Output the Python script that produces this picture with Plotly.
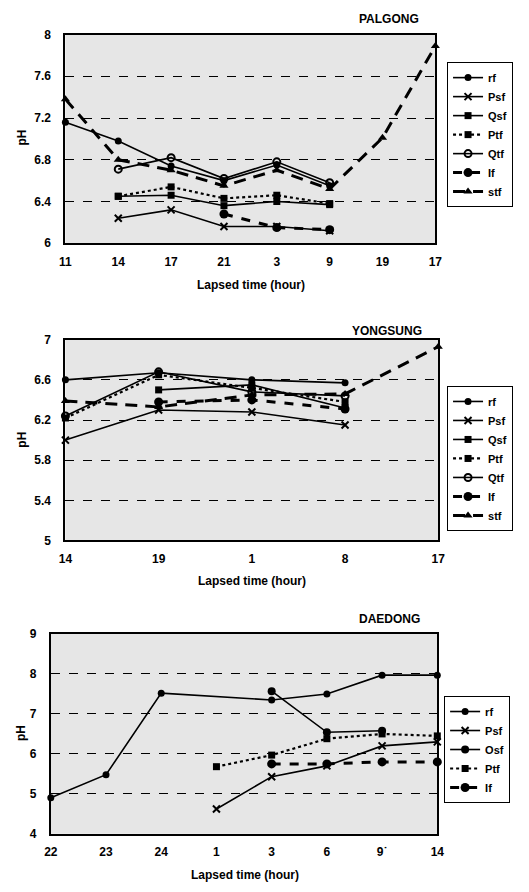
import plotly.graph_objects as go

# ---------------- data ----------------
PALGONG_TIMES = ["11", "14", "17", "21", "3", "9", "19", "17"]
PALGONG_RF  = [7.16, 6.98, 6.74, 6.60, 6.75, 6.55, None, None]
PALGONG_PSF = [None, 6.24, 6.32, 6.16, 6.16, 6.12, None, None]
PALGONG_QSF = [None, 6.45, 6.46, 6.36, 6.40, 6.37, None, None]
PALGONG_PTF = [None, 6.45, 6.54, 6.43, 6.46, 6.38, None, None]
PALGONG_QTF = [None, 6.71, 6.82, 6.62, 6.78, 6.58, None, None]
PALGONG_IF  = [None, None, None, 6.28, 6.15, 6.13, None, None]
PALGONG_STF = [7.38, 6.80, 6.70, 6.55, 6.70, 6.52, 7.01, 7.89]

YONGSUNG_TIMES = ["14", "19", "1", "8", "17"]
YONGSUNG_RF  = [6.60, 6.67, 6.60, 6.57, None]
YONGSUNG_PSF = [6.00, 6.30, 6.28, 6.15, None]
YONGSUNG_QSF = [None, 6.50, 6.55, 6.32, None]
YONGSUNG_PTF = [6.22, 6.65, 6.52, 6.38, None]
YONGSUNG_QTF = [6.24, 6.68, 6.48, 6.44, None]
YONGSUNG_IF  = [None, 6.38, 6.40, 6.31, None]
YONGSUNG_STF = [6.39, 6.33, 6.45, 6.46, 6.93]

DAEDONG_TIMES = ["22", "23", "24", "1", "3", "6", "9˙", "14"]
DAEDONG_RF  = [4.90, 5.48, 7.52, None, 7.35, 7.50, 7.97, 7.97]
DAEDONG_PSF = [None, None, None, 4.62, 5.43, 5.70, 6.20, 6.30]
DAEDONG_OSF = [None, None, None, None, 7.57, 6.54, 6.58, None]
DAEDONG_PTF = [None, None, None, 5.68, 5.97, 6.38, 6.50, 6.45]
DAEDONG_IF  = [None, None, None, None, 5.75, 5.75, 5.80, 5.80]

FONT = "Liberation Sans, Arial, sans-serif"
W, H = 529, 892

fig = go.Figure()

STYLES = {
    "rf":  dict(line=dict(color="black", width=1.6, dash="solid"), marker=dict(symbol="circle", size=7, color="black")),
    "Psf": dict(line=dict(color="black", width=1.6, dash="solid"), marker=dict(symbol="x-thin", size=7, color="black", line=dict(width=2, color="black"))),
    "Qsf": dict(line=dict(color="black", width=1.6, dash="solid"), marker=dict(symbol="square", size=7, color="black")),
    "Osf": dict(line=dict(color="black", width=1.6, dash="solid"), marker=dict(symbol="circle", size=8, color="black")),
    "Ptf": dict(line=dict(color="black", width=2.2, dash="dot"), marker=dict(symbol="square", size=7, color="black")),
    "Qtf": dict(line=dict(color="black", width=1.6, dash="solid"), marker=dict(symbol="circle-open", size=7, color="black", line=dict(width=2))),
    "If":  dict(line=dict(color="black", width=3, dash="dash"), marker=dict(symbol="circle", size=9, color="black")),
    "stf": dict(line=dict(color="black", width=3, dash="12px,8px"), marker=dict(symbol="triangle-up", size=8, color="black")),
}


def add_panel(times, series, xa, ya, legend):
    xs = list(range(len(times)))
    for name, vals in series:
        st = STYLES[name]
        fig.add_trace(go.Scatter(
            x=xs, y=vals, name=name, mode="lines+markers",
            line=st["line"], marker=st["marker"],
            xaxis=xa, yaxis=ya, legend=legend, cliponaxis=False,
            connectgaps=True,
        ))


add_panel(PALGONG_TIMES, [("rf", PALGONG_RF), ("Psf", PALGONG_PSF), ("Qsf", PALGONG_QSF),
                          ("Ptf", PALGONG_PTF), ("Qtf", PALGONG_QTF), ("If", PALGONG_IF),
                          ("stf", PALGONG_STF)], "x", "y", "legend")
add_panel(YONGSUNG_TIMES, [("rf", YONGSUNG_RF), ("Psf", YONGSUNG_PSF), ("Qsf", YONGSUNG_QSF),
                           ("Ptf", YONGSUNG_PTF), ("Qtf", YONGSUNG_QTF), ("If", YONGSUNG_IF),
                           ("stf", YONGSUNG_STF)], "x2", "y2", "legend2")
add_panel(DAEDONG_TIMES, [("rf", DAEDONG_RF), ("Psf", DAEDONG_PSF), ("Osf", DAEDONG_OSF),
                          ("Ptf", DAEDONG_PTF), ("If", DAEDONG_IF)], "x3", "y3", "legend3")


def px_x(p):
    return p / W


def px_y(p):
    return 1 - p / H


TICKFONT = dict(family=FONT, size=12, color="black", weight="bold")


def xaxis(times, x0, x1, anchor):
    return dict(
        domain=[px_x(x0), px_x(x1)], anchor=anchor,
        range=[0, len(times) - 1], tickmode="array",
        tickvals=list(range(len(times))), ticktext=times,
        showgrid=False, zeroline=False, showline=True, linecolor="black",
        linewidth=2, mirror=True, ticks="", ticklabelstandoff=6,
        tickfont=TICKFONT,
    )


def yaxis(rng, dt, y0, y1, anchor):
    return dict(
        domain=[px_y(y1), px_y(y0)], anchor=anchor,
        range=rng, dtick=dt, tick0=rng[0],
        showgrid=True, gridcolor="black", gridwidth=1, griddash="dash",
        zeroline=False, showline=True, linecolor="black", linewidth=2,
        mirror=True, ticks="", ticklabelstandoff=10,
        tickfont=TICKFONT,
    )


legend_common = dict(
    bgcolor="white", bordercolor="black", borderwidth=1,
    font=dict(family=FONT, size=11, color="black", weight="bold"),
    xanchor="left", yanchor="top", tracegroupgap=0, itemwidth=30,
)

fig.update_layout(
    width=W, height=H,
    margin=dict(l=0, r=0, t=0, b=0),
    paper_bgcolor="white",
    plot_bgcolor="#e6e6e6",
    xaxis=xaxis(PALGONG_TIMES, 60, 440, "y"),
    yaxis=yaxis([6, 8], 0.4, 28, 240, "x"),
    xaxis2=xaxis(YONGSUNG_TIMES, 60, 443, "y2"),
    yaxis2=yaxis([5, 7], 0.4, 338, 542, "x2"),
    xaxis3=xaxis(DAEDONG_TIMES, 45, 442, "y3"),
    yaxis3=yaxis([4, 9], 1, 637, 840, "x3"),
    legend=dict(legend_common, x=px_x(452), y=px_y(56)),
    legend2=dict(legend_common, x=px_x(452), y=px_y(385)),
    legend3=dict(legend_common, x=px_x(449), y=px_y(700)),
    showlegend=True,
)

LABELFONT = dict(family=FONT, size=12, color="black", weight="bold")
annots = []
for title, tx, ty in [("PALGONG", 392, 12), ("YONGSUNG", 390, 329), ("DAEDONG", 393, 622)]:
    annots.append(dict(text=title, x=px_x(tx), y=px_y(ty), xref="paper", yref="paper",
                       xanchor="center", yanchor="middle",
                       showarrow=False, font=LABELFONT))
for tx, ty in [(251, 282), (252, 583), (244, 882)]:
    annots.append(dict(text="Lapsed time (hour)", x=px_x(tx), y=px_y(ty), xref="paper", yref="paper",
                       xanchor="center", yanchor="middle",
                       showarrow=False, font=LABELFONT))
for ty in [133, 440, 738]:
    annots.append(dict(text="pH", x=px_x(15), y=px_y(ty), xref="paper", yref="paper",
                       xanchor="center", yanchor="middle",
                       showarrow=False, textangle=-90, font=LABELFONT))
fig.update_layout(annotations=annots)

fig.write_html(
    "out.html",
    config={"displayModeBar": False},
    post_script="document.body.style.margin='0';document.body.style.overflow='hidden';",
)
